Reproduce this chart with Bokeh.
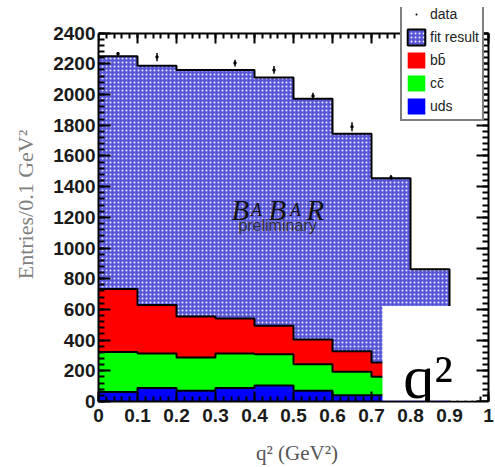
import numpy as np
from bokeh.plotting import figure
from bokeh.models import (Range1d, LinearAxis, SingleIntervalTicker, Legend, LegendItem,
                          BoxAnnotation, Label, CustomJSTickFormatter)
from bokeh.embed import file_html
from bokeh.resources import INLINE

# ---- data ----
bin_edges = [0.0, 0.1, 0.2, 0.3, 0.4, 0.5, 0.6, 0.7, 0.8, 0.9]
fit_total = [2250, 2188, 2160, 2160, 2111, 1972, 1744, 1455, 861]
bb_vals = [410, 316, 267, 228, 186, 162, 133, 92, 70]
cc_vals = [261, 224, 216, 224, 203, 172, 154, 122, 100]
uds_vals = [62, 88, 70, 88, 105, 70, 40, 40, 30]

data_x = [0.05, 0.15, 0.35, 0.45, 0.55, 0.65, 0.75]
data_y = [2265, 2244, 2205, 2160, 1990, 1790, 1460]
data_err = [12, 27, 22, 25, 22, 30, 15]

legend_labels = ["data", "fit result", "b\u0062\u0304", "c\u0063\u0304", "uds"]

X_MIN, X_MAX = 0.0, 1.0
Y_MIN, Y_MAX = 0, 2400

FIT_COLOR = "#5856d8"
HATCH_COLOR = "#ececff"
RED = "#ff0000"
GREEN = "#00ff00"
BLUE = "#0000ff"

edges = np.array(bin_edges)
uds_top = np.array(uds_vals, dtype=float)
cc_top = uds_top + np.array(cc_vals)
bb_top = cc_top + np.array(bb_vals)
fit_arr = np.array(fit_total, dtype=float)


def ext(a):
    return list(a) + [a[-1]]


# frame is a little larger than the drawn box so that the legend may overhang it
p = figure(width=495, height=467,
           x_range=Range1d(X_MIN, X_MAX * 397 / 390), y_range=Range1d(Y_MIN, Y_MAX * 400 / 374),
           output_backend="svg", toolbar_location=None,
           x_axis_location=None, y_axis_location=None,
           min_border_left=98, min_border_right=0, min_border_top=7, min_border_bottom=60)
p.background_fill_color = "white"
p.border_fill_color = "white"
p.outline_line_color = None
p.xgrid.visible = False
p.ygrid.visible = False

# stacked areas
fit_r = p.varea_step(x=list(edges), y1=[0] * len(edges), y2=ext(fit_arr), step_mode="after",
                     fill_color=FIT_COLOR, hatch_pattern="dot", hatch_color=HATCH_COLOR,
                     hatch_scale=4, hatch_weight=1.2)
bb_r = p.varea_step(x=list(edges), y1=ext(cc_top), y2=ext(bb_top), step_mode="after", fill_color=RED)
cc_r = p.varea_step(x=list(edges), y1=ext(uds_top), y2=ext(cc_top), step_mode="after", fill_color=GREEN)
uds_r = p.varea_step(x=list(edges), y1=[0] * len(edges), y2=ext(uds_top), step_mode="after", fill_color=BLUE)

for arr in (fit_arr, bb_top, cc_top, uds_top):
    p.step(x=list(edges), y=list(arr) + [0], mode="after", line_color="black", line_width=2)

# legend-only renderer for "fit result" (hatched with black border); NaN -> nothing drawn
nan = float("nan")
fit_leg = p.quad(left=[nan], right=[nan], top=[nan], bottom=[nan], fill_color=FIT_COLOR,
                 hatch_pattern="dot", hatch_color=HATCH_COLOR, hatch_scale=4, hatch_weight=1.2,
                 line_color="black", line_width=2)

# data with error bars
dx = np.array(data_x)
dy = np.array(data_y, dtype=float)
de = np.array(data_err, dtype=float)
p.segment(x0=dx, y0=dy - de, x1=dx, y1=dy + de, line_color="black", line_width=1.5)
pts = p.scatter(x=dx, y=dy, marker="dot", size=14, color="black")

# axes (the four sides of the box)
TICK_FONT = "Liberation Sans"


def style_axis(ax, tin, tmin, labels):
    ax.major_tick_in = tin
    ax.major_tick_out = 0
    ax.minor_tick_in = tmin
    ax.minor_tick_out = 0
    ax.major_tick_line_width = 2
    ax.minor_tick_line_width = 2
    ax.major_tick_line_color = "black"
    ax.minor_tick_line_color = "black"
    ax.axis_line_color = "black"
    ax.axis_line_width = 2
    ax.major_label_text_font = TICK_FONT
    ax.major_label_text_font_size = "19px"
    ax.major_label_text_font_style = "bold"
    ax.major_label_text_color = "#1a1a1a"
    if not labels:
        ax.formatter = CustomJSTickFormatter(code="return ''")
        ax.major_label_text_font_size = "0px"
        ax.major_label_standoff = 0


left = LinearAxis(ticker=SingleIntervalTicker(interval=200, num_minor_ticks=5), bounds=(Y_MIN, Y_MAX))
style_axis(left, 12, 6, True)
left.major_label_standoff = 3
left.axis_label = "Entries/0.1 GeV\u00b2"
left.axis_label_text_font = "Liberation Serif"
left.axis_label_text_font_size = "22px"
left.axis_label_text_font_style = "normal"
left.axis_label_text_color = "#808080"
left.axis_label_standoff = 12
p.add_layout(left, "left")

right = LinearAxis(ticker=SingleIntervalTicker(interval=200, num_minor_ticks=5), bounds=(Y_MIN, Y_MAX),
                   fixed_location=X_MAX)
style_axis(right, 12, 6, False)
p.add_layout(right, "right")

bottom = LinearAxis(ticker=SingleIntervalTicker(interval=0.1, num_minor_ticks=5), bounds=(X_MIN, X_MAX))
style_axis(bottom, 10, 5, True)
bottom.formatter = CustomJSTickFormatter(code="return String(Math.round(tick*10)/10)")
bottom.major_label_standoff = 7
bottom.axis_label = "q\u00b2 (GeV\u00b2)"
bottom.axis_label_text_font = "Liberation Serif"
bottom.axis_label_text_font_size = "21px"
bottom.axis_label_text_font_style = "normal"
bottom.axis_label_text_color = "#555555"
bottom.axis_label_standoff = 16
p.add_layout(bottom, "below")

top = LinearAxis(ticker=SingleIntervalTicker(interval=0.1, num_minor_ticks=5), bounds=(X_MIN, X_MAX),
                 fixed_location=Y_MAX)
style_axis(top, 10, 5, False)
p.add_layout(top, "above")

# BABAR logo
babar = [("B", 0, 29), ("A", 16, 18), ("B", 37, 29), ("A", 55, 18), ("R", 75, 29)]
for ch, off, fs in babar:
    p.add_layout(Label(x=0.364, y=1250, x_offset=off, text=ch, text_align="center",
                       text_baseline="alphabetic", text_font="Liberation Serif",
                       text_font_style="italic", text_font_size=f"{fs}px", text_color="#111111"))
p.add_layout(Label(x=0.459, y=1145, text="preliminary", text_align="center",
                   text_baseline="alphabetic", text_font="Liberation Sans",
                   text_font_size="16px", text_color="#333333"))

# q^2 box
p.add_layout(BoxAnnotation(left=0.728, right=0.967, bottom=7, top=622,
                           fill_color="white", fill_alpha=1, line_color=None, level="annotation"))
p.add_layout(Label(x=0.845, y=160, text="q\u00b2", text_align="center", text_baseline="alphabetic",
                   text_font="Liberation Serif", text_font_size="62px", text_color="black"))

# legend
items = [LegendItem(label=legend_labels[0], renderers=[pts]),
         LegendItem(label=legend_labels[1], renderers=[fit_leg]),
         LegendItem(label=legend_labels[2], renderers=[bb_r]),
         LegendItem(label=legend_labels[3], renderers=[cc_r]),
         LegendItem(label=legend_labels[4], renderers=[uds_r])]
legend = Legend(items=items, location=(302, 280))
legend.border_line_color = "black"
legend.border_line_width = 2
legend.background_fill_color = "white"
legend.background_fill_alpha = 1
legend.label_text_font = "Liberation Sans"
legend.label_text_font_size = "14px"
legend.label_text_color = "#222222"
legend.glyph_width = 22
legend.glyph_height = 20
legend.label_height = 20
legend.spacing = 3
legend.padding = 3
legend.margin = 0
legend.label_standoff = 3
p.add_layout(legend, "center")

open("out.html", "w").write(file_html(p, INLINE))
